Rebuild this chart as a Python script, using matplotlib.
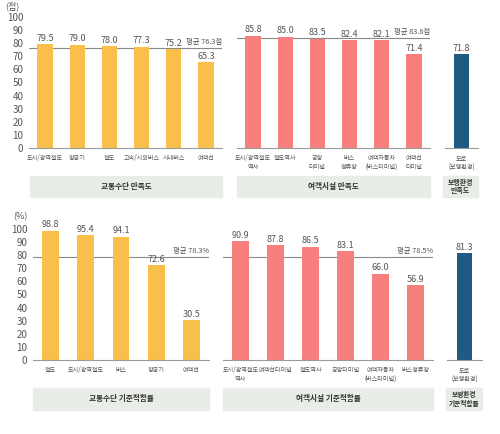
import matplotlib.pyplot as plt
from matplotlib.patches import Rectangle

plt.rcParams['font.family'] = ['Noto Sans CJK KR', 'DejaVu Sans']

W, H = 500, 434

# --- data -------------------------------------------------------------
sat_vehicle_labels = ["도시/광역철도", "항공기", "철도", "고속/시외버스", "시내버스", "여객선"]
sat_vehicle_values = [79.5, 79.0, 78.0, 77.3, 75.2, 65.3]
sat_vehicle_avg = 76.3

sat_facility_labels = ["도시/광역철도\n역사", "철도역사", "공항\n터미널", "버스\n정류장",
                       "여객자동차\n(버스터미널)", "여객선\n터미널"]
sat_facility_values = [85.8, 85.0, 83.5, 82.4, 82.1, 71.4]
sat_facility_avg = 83.8

sat_walk_labels = ["도로\n(보행환경)"]
sat_walk_values = [71.8]

fit_vehicle_labels = ["철도", "도시/광역철도", "버스", "항공기", "여객선"]
fit_vehicle_values = [98.8, 95.4, 94.1, 72.6, 30.5]
fit_vehicle_avg = 78.3

fit_facility_labels = ["도시/광역철도\n역사", "여객선터미널", "철도역사", "공항터미널",
                       "여객자동차\n(버스터미널)", "버스정류장"]
fit_facility_values = [90.9, 87.8, 86.5, 83.1, 66.0, 56.9]
fit_facility_avg = 78.5

fit_walk_labels = ["도로\n(보행환경)"]
fit_walk_values = [81.3]

YELLOW = "#F9BF4B"
PINK = "#F7807E"
NAVY = "#1F5A82"
GREY_TXT = "#555555"
BOX = "#E9EDE7"

fig = plt.figure(figsize=(W / 100, H / 100), dpi=100)


def px_axes(x0, x1, y_top, y_bot):
    return fig.add_axes([x0 / W, 1 - y_bot / H, (x1 - x0) / W, (y_bot - y_top) / H])


def group(x0, x1, y100, y0, labels, values, color, avg=None, avg_text=None,
          yticks=False, bw=0.48):
    ax = px_axes(x0, x1, y100, y0)
    n = len(values)
    xs = range(n)
    ax.bar(xs, values, width=bw, color=color, zorder=2)
    ax.set_xlim(-0.5, n - 0.5)
    ax.set_ylim(0, 100)
    for s in ["top", "right", "left"]:
        ax.spines[s].set_visible(False)
    ax.spines["bottom"].set_color("#9a9a9a")
    ax.spines["bottom"].set_linewidth(0.8)
    ax.set_xticks(list(xs))
    ax.set_xticklabels(labels, fontsize=4.4, color=GREY_TXT, linespacing=1.3)
    ax.tick_params(axis="x", length=0, pad=4)
    if yticks:
        ax.set_yticks(range(0, 101, 10))
        ax.tick_params(axis="y", length=0, labelsize=7, labelcolor=GREY_TXT, pad=4)
    else:
        ax.set_yticks([])
    for x, v in zip(xs, values):
        ax.text(x, v + 1, f"{v:.1f}", ha="center", va="bottom", fontsize=6.5,
                color=GREY_TXT)
    if avg is not None:
        ax.axhline(avg, color="#8a8a8a", lw=0.8, zorder=1)
        ax.text(n - 0.5, avg + 1.5, avg_text, ha="right", va="bottom",
                fontsize=5.3, color=GREY_TXT)
    return ax


def box(x0, x1, y_top, y_bot, text, size=5.5):
    fig.patches.append(Rectangle((x0 / W, 1 - y_bot / H), (x1 - x0) / W,
                                 (y_bot - y_top) / H, transform=fig.transFigure,
                                 color=BOX, zorder=0))
    fig.text((x0 + x1) / 2 / W, 1 - (y_top + y_bot) / 2 / H, text, ha="center",
             va="center", fontsize=size, fontweight="bold", color="#333333",
             linespacing=1.2)


# --- top row: satisfaction -------------------------------------------
group(29, 222, 17, 148, sat_vehicle_labels, sat_vehicle_values, YELLOW,
      sat_vehicle_avg, f"평균 {sat_vehicle_avg}점", yticks=True)
group(237, 430, 17, 148, sat_facility_labels, sat_facility_values, PINK,
      sat_facility_avg, f"평균 {sat_facility_avg}점")
group(445, 478, 17, 148, sat_walk_labels, sat_walk_values, NAVY, bw=0.45)
fig.text(5 / W, 1 - 6 / H, "(점)", fontsize=6.5, color=GREY_TXT, va="center")

box(30, 222, 176, 197, "교통수단 만족도")
box(237, 430, 176, 197, "여객시설 만족도")
box(443, 478, 176, 197, "보행환경\n만족도", size=5)

# --- bottom row: standard compliance ---------------------------------
group(33, 209, 229, 360, fit_vehicle_labels, fit_vehicle_values, YELLOW,
      fit_vehicle_avg, f"평균 {fit_vehicle_avg}%", yticks=True)
group(223, 433, 229, 360, fit_facility_labels, fit_facility_values, PINK,
      fit_facility_avg, f"평균 {fit_facility_avg}%")
group(447, 482, 229, 360, fit_walk_labels, fit_walk_values, NAVY, bw=0.45)
fig.text(13 / W, 1 - 217 / H, "(%)", fontsize=6.5, color=GREY_TXT, va="center")

box(33, 209, 388, 410, "교통수단 기준적합률")
box(223, 433, 388, 410, "여객시설 기준적합률")
box(446, 482, 388, 410, "보행환경\n기준적합률", size=4.8)

fig.savefig("out.png", dpi=100)
